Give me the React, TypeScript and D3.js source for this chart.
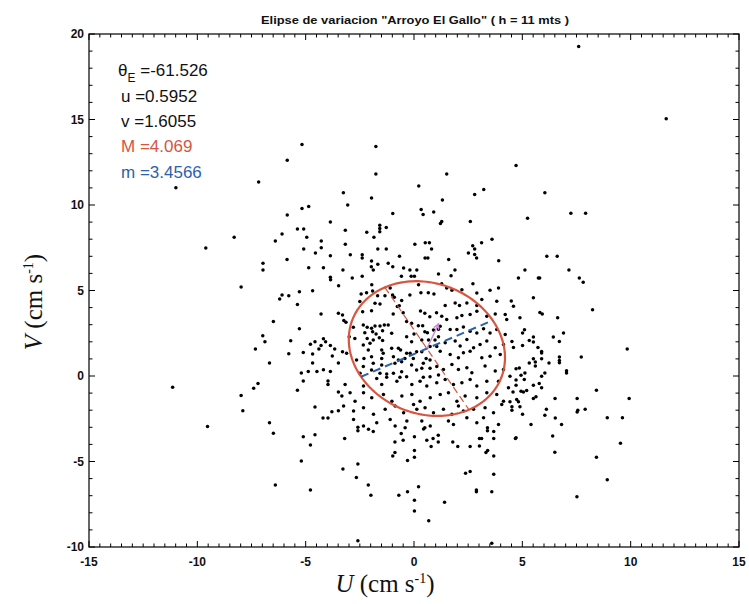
import React from "react";
import * as d3 from "d3";

const W = 749;
const H = 604;

const titleText = 'Elipse de variacion "Arroyo El Gallo" ( h = 11 mts )';
const xTickLabels = [-15, -10, -5, 0, 5, 10, 15];
const yTickLabels = [-10, -5, 0, 5, 10, 15, 20];

// ellipse statistics
const thetaE = -61.526;
const uMean = 0.5952;
const vMean = 1.6055;
const majorM = 4.069;
const minorM = 3.4566;

// scatter points [U, V] grouped by region of the plot
const ptsTop: [number, number][] = [[7.6, 19.27], [11.64, 15.04]];

const ptsUpperLeft: [number, number][] = [
  [-5.17, 13.54], [-5.85, 12.62], [-10.99, 11.01], [-7.17, 11.34], [-5.17, 9.79], [-4.86, 9.91],
  [-5.85, 9.42], [-3.86, 9.01], [-5.38, 8.6], [-5.09, 8.6], [-6.09, 8.31], [-4.95, 8.12], [-8.3, 8.12],
  [-6.4, 7.9], [-4.28, 7.89], [-9.61, 7.48], [-5.09, 7.42], [-4.28, 7.5], [-4.55, 7.2], [-3.86, 7.03],
  [-5.86, 6.82], [-6.97, 6.6], [-6.97, 6.2], [-4.86, 6.33], [-4.18, 6.33], [-3.86, 5.77],
];

const ptsUpperMid: [number, number][] = [
  [-1.76, 13.42], [-1.76, 11.81], [1.51, 11.81], [4.71, 12.31], [0.22, 11.11], [6.04, 10.72], [-3.26, 10.72],
  [2.8, 10.62], [3.22, 10.91], [-1.96, 10.41], [1.31, 10.29], [-3.06, 10.0], [0.33, 9.73], [0.42, 9.44],
  [0.91, 9.59], [-0.98, 9.5], [7.24, 9.52], [7.92, 9.52], [5.24, 9.23], [1.22, 8.92], [1.28, 9.03],
  [2.6, 9.03], [-3.17, 8.53], [-1.58, 8.82], [-1.58, 8.63], [-1.58, 8.43], [-1.28, 8.68], [-2.18, 8.41],
  [-1.85, 8.12], [-3.17, 7.71], [0.04, 7.71], [0.52, 7.79], [0.71, 7.79], [0.81, 7.42], [3.6, 8.0],
  [3.12, 7.79], [2.71, 7.61], [2.8, 7.42], [2.51, 7.2], [2.8, 7.11], [2.89, 6.9], [-1.67, 7.42],
  [-1.28, 7.42], [-2.94, 7.09], [-2.39, 7.09], [-2.39, 6.9], [-0.67, 7.01], [0.51, 6.9], [0.64, 6.9],
  [1.6, 6.82], [3.91, 6.74], [6.13, 7.01], [6.61, 7.01], [-1.96, 6.72], [-1.67, 6.53], [-1.19, 6.6],
  [-1.97, 6.39], [-1.88, 6.2], [-0.98, 6.39], [-0.48, 6.31], [-0.19, 6.2], [0.13, 6.2], [-3.28, 6.2],
  [1.89, 6.2], [5.12, 6.2], [7.15, 6.2], [1.13, 5.96], [1.71, 5.86], [-2.39, 5.83], [-0.58, 5.83],
  [-0.13, 5.83], [0.02, 5.83], [-2.85, 5.73], [4.82, 5.73], [5.74, 5.73], [5.8, 5.73], [7.63, 5.73],
];

const ptsRightMid: [number, number][] = [
  [7.81, 5.48], [5.51, 4.58], [4.49, 4.39], [4.59, 4.08], [5.81, 3.71], [5.92, 3.62], [4.89, 3.4],
  [6.63, 3.4], [5.1, 2.7], [5.01, 2.51], [6.9, 2.51], [4.52, 2.02], [5.51, 2.28], [5.32, 2.08],
  [5.51, 1.99], [6.43, 2.28], [6.71, 2.02], [5.01, 1.79], [4.59, 1.67], [5.72, 1.67], [5.89, 1.44],
  [5.89, 1.35], [7.72, 1.11], [5.51, 1.01], [5.6, 0.82], [6.71, 1.11], [6.71, 0.91], [6.71, 0.78],
  [5.32, 0.76], [5.6, 0.59], [5.89, 1.01], [6.23, 0.76], [4.71, 0.43], [4.86, 0.47], [5.12, 0.18],
  [4.94, 0.04], [6.04, 0.18], [7.04, 0.3], [7.04, 0.18], [4.43, -0.02], [4.71, -0.23], [5.09, -0.21],
  [5.89, -0.02], [4.71, -0.54], [5.51, -0.54], [5.78, -0.44], [5.89, -0.68], [4.57, -0.93], [4.94, -0.89],
  [5.05, -0.93], [5.2, -0.85], [5.63, -1.22], [5.51, -1.32], [6.51, -1.32], [4.43, -1.51], [4.74, -1.38],
  [4.82, -1.51], [7.53, -1.32], [4.52, -1.8], [4.52, -2.0], [4.89, -1.8], [6.11, -1.94], [7.56, -2.0],
  [7.53, -2.11], [7.9, -1.94], [5.01, -2.23], [6.04, -2.29], [6.52, -2.46], [5.4, -2.83], [6.81, -2.83],
  [4.71, -3.61], [6.4, -3.51],
];

const ptsFarRight: [number, number][] = [
  [8.24, 3.87], [9.84, 1.58], [8.42, -0.83], [9.93, -1.32], [8.92, -2.44], [9.62, -2.44], [9.53, -3.94],
  [8.42, -4.75], [8.92, -6.07],
];

const ptsLeftMid: [number, number][] = [
  [-7.98, 5.21], [-6.09, 4.74], [-6.2, 4.51], [-5.78, 4.7], [-5.29, 4.92], [-4.68, 4.99], [-3.85, 5.63],
  [-3.48, 5.28], [-5.38, 4.18], [-4.29, 3.62], [-3.49, 3.67], [-6.49, 3.19], [-5.29, 2.76], [-6.98, 2.35],
  [-6.88, 2.0], [-5.69, 2.06], [-7.32, 1.58], [-4.78, 1.85], [-4.57, 2.0], [-4.29, 1.79], [-4.18, 2.18],
  [-4.08, 2.0], [-4.39, 1.58], [-3.86, 1.79], [-3.66, 1.58], [-5.78, 1.3], [-5.11, 1.38], [-4.68, 1.29],
  [-3.77, 1.17], [-6.67, 0.76], [-4.68, 0.76], [-3.49, 0.76], [-5.2, 0.18], [-4.88, 0.27], [-4.48, 0.27],
  [-4.18, 0.37], [-3.86, 0.27], [-5.11, -0.29], [-3.97, -0.29], [-3.97, -0.5], [-3.49, -0.93],
  [-11.14, -0.66], [-7.2, -0.44], [-7.4, -0.72], [-5.38, -0.83], [-7.98, -1.14], [-7.9, -2.03],
  [-4.57, -1.82], [-3.79, -2.09], [-3.49, -2.03], [-4.2, -2.46], [-3.97, -2.46], [-9.53, -2.95],
  [-6.67, -2.73], [-6.49, -3.35], [-5.11, -3.55], [-4.57, -3.43], [-4.78, -4.04],
  [-5.2, -4.97], [-6.4, -6.37], [-4.78, -6.66],
];

const ptsLower: [number, number][] = [
  [-3.2, -3.65], [-2.59, -3.0], [-2.59, -3.2], [-2.1, -3.12], [-1.88, -3.24], [-0.59, -3.36], [-0.41, -3.02],
  [-0.88, -3.86], [-0.5, -3.75], [0.02, -3.55], [0.44, -3.1], [0.5, -3.02], [0.59, -3.75], [0.88, -3.65],
  [1.12, -3.46], [1.12, -3.86], [0.79, -4.13], [0.02, -4.36], [0.02, -4.75], [-0.88, -4.48], [-0.98, -4.68],
  [-0.3, -4.94], [1.79, -3.86], [2.02, -4.13], [2.59, -4.13], [3.02, -3.65], [3.12, -3.65], [3.02, -4.1],
  [3.32, -4.48], [3.4, -4.36], [3.39, -3.02], [3.39, -3.2], [3.68, -3.24], [3.68, -3.65], [3.68, -4.68],
  [4.68, -3.65], [6.5, -4.46], [-3.28, -5.44], [-2.59, -5.15], [-2.66, -5.93], [-2.11, -6.37], [-1.99, -6.97],
  [-0.7, -6.97], [-0.3, -6.77], [0.21, -6.48], [0.02, -7.27], [0.02, -7.9], [0.68, -8.46], [1.41, -7.39],
  [2.38, -5.69], [2.59, -5.59], [2.88, -6.66], [2.88, -6.77], [3.68, -5.74], [3.59, -6.77], [7.52, -7.06],
  [-2.59, -9.64], [3.59, -9.78],
];

// left half of the ellipse (dense core)
const ptsCoreLeft: [number, number][] = [
  [-2.44, 4.8], [-2.19, 4.87], [-1.91, 4.97], [-1.68, 4.7], [-1.34, 4.7], [-0.99, 4.74], [-0.91, 4.6],
  [-0.57, 4.41], [-0.68, 4.11], [-0.77, 4.06], [-0.19, 4.74], [0.32, 4.87], [0.66, 4.87], [0.92, 4.8],
  [-2.5, 4.35], [-1.8, 4.25], [-1.57, 4.21], [-2.37, 3.76], [-1.96, 3.82], [-0.96, 3.63], [-0.5, 3.7],
  [0.3, 3.8], [0.5, 3.67], [0.73, 3.47], [1.04, 3.7], [-3.3, 3.57], [-3.24, 3.24], [-3.14, 3.14],
  [-2.8, 2.85], [-2.34, 2.98], [-2.16, 2.85], [-1.96, 2.79], [-1.8, 2.92], [-1.57, 2.92], [-1.37, 2.98],
  [-1.19, 2.98], [-0.34, 3.18], [-0.11, 3.08], [0.2, 2.94], [0.4, 2.94], [-2.27, 2.53], [-1.91, 2.59],
  [-1.75, 2.46], [-1.45, 2.65], [-1.03, 2.5], [-2.73, 2.2], [-2.99, 2.3], [-2.16, 2.2], [-2.03, 1.91],
  [-1.88, 2.11], [-1.6, 2.24], [-1.45, 2.07], [-0.34, 2.3], [0.0, 2.46], [0.5, 2.59], [0.62, 2.53],
  [0.9, 2.69], [1.13, 2.73], [-0.11, 2.01], [0.36, 2.11], [0.67, 2.11], [0.97, 2.11], [1.13, 2.3],
  [-3.3, 1.42], [-3.11, 1.33], [-2.34, 1.81], [-2.11, 1.52], [-1.49, 1.52], [-1.42, 1.33], [-1.03, 1.62],
  [-0.72, 1.62], [-0.62, 1.52], [-0.34, 1.33], [-0.18, 1.33], [0.12, 1.42], [0.36, 1.42], [0.74, 1.72],
  [1.05, 1.72], [-2.65, 0.94], [-2.31, 1.03], [-1.96, 1.13], [-1.49, 1.03], [-0.95, 1.13], [-0.72, 0.94],
  [-0.42, 1.03], [-0.03, 1.03], [0.56, 1.03], [0.74, 0.94], [-2.34, 0.55], [-1.88, 0.74], [-1.49, 0.64],
  [-0.88, 0.74], [-0.57, 0.84], [-0.11, 0.64], [0.43, 0.74], [1.05, 0.55], [-2.49, 0.16], [-1.96, 0.35],
  [-1.57, 0.16], [-1.26, 0.12], [-0.95, 0.16], [-0.57, 0.25], [0.12, 0.35], [0.36, 0.45], [0.74, 0.45],
  [1.13, 0.06], [-1.72, -0.14], [-1.26, -0.08], [-0.65, -0.08], [-0.34, -0.04], [0.43, -0.08], [0.74, -0.04],
];

// right half and lower part of the ellipse
const ptsCoreRight: [number, number][] = [
  [-1.95, 5.34], [-1.1, 5.15], [0.21, 5.34], [1.28, 5.4], [1.51, 5.15], [1.75, 5.01], [2.21, 5.05],
  [2.72, 5.4], [2.9, 4.86], [3.51, 5.01], [3.9, 5.15],
  [1.44, 4.12], [1.9, 4.27], [2.1, 4.12], [2.44, 4.27], [2.9, 4.12], [3.13, 4.47], [3.82, 4.37],
  [1.28, 3.5], [1.51, 3.3], [1.98, 3.4], [2.21, 3.54], [2.59, 3.59], [2.9, 3.79], [3.36, 3.5], [3.75, 3.63],
  [4.21, 3.59], [4.28, 3.3],
  [1.21, 2.91], [1.67, 2.72], [1.98, 2.72], [2.28, 2.87], [2.59, 2.62], [2.9, 2.52], [3.21, 2.76],
  [3.51, 2.52], [3.82, 2.72], [4.21, 2.43],
  [1.44, 1.94], [1.9, 2.04], [2.13, 1.75], [2.44, 2.13], [2.75, 1.65], [3.05, 1.84], [3.36, 2.04],
  [3.75, 1.65], [4.13, 1.84],
  [1.21, 1.45], [1.67, 1.26], [2.05, 1.06], [2.28, 1.36], [2.59, 1.45], [3.13, 1.06], [3.51, 1.16], [3.98, 1.26],
  [1.36, 0.38], [1.75, 0.67], [2.05, 0.38], [2.44, 0.48], [2.67, 0.19], [3.28, 0.58], [3.75, 0.29], [4.13, 0.38],
  [-3.18, -0.49], [-2.33, -0.59], [-1.49, -0.49], [-0.79, -0.3], [-0.1, -0.49], [0.28, -0.3], [0.59, -0.59],
  [1.05, -0.39], [1.44, -0.2], [1.82, -0.49], [2.21, -0.39], [2.59, -0.2], [2.9, -0.59], [3.36, -0.3],
  [3.9, -0.3], [4.36, -0.69],
  [-3.33, -1.17], [-2.95, -0.98], [-2.72, -1.47], [-2.33, -0.98], [-1.95, -1.27], [-1.41, -1.08],
  [-1.02, -1.47], [-0.56, -1.17], [-0.1, -1.08], [0.28, -1.47], [0.75, -1.27], [1.21, -1.08], [1.59, -0.98],
  [1.98, -1.47], [2.36, -1.17], [2.9, -1.27], [3.36, -0.98], [3.82, -1.08], [4.13, -1.47],
  [-3.25, -1.76], [-2.79, -2.05], [-2.33, -1.85], [-1.87, -2.24], [-1.33, -1.95], [-0.87, -1.76],
  [-0.48, -2.15], [-0.02, -1.66], [0.13, -1.95], [0.51, -1.85], [0.9, -2.15], [1.36, -1.95], [1.75, -2.24],
  [2.05, -1.76], [2.28, -2.05], [2.75, -1.95], [3.28, -1.85], [3.67, -2.15], [4.05, -1.66],
  [-2.79, -2.54], [-2.33, -2.92], [-1.72, -2.73], [-1.1, -2.54], [-0.87, -2.92], [-0.33, -2.63],
  [0.36, -2.63], [0.75, -2.92], [1.59, -2.63], [1.82, -2.83], [2.44, -2.44], [2.9, -2.73], [3.21, -2.44],
  [3.9, -2.83],
];

const allPoints = [
  ...ptsTop, ...ptsUpperLeft, ...ptsUpperMid, ...ptsRightMid, ...ptsFarRight,
  ...ptsLeftMid, ...ptsLower, ...ptsCoreLeft, ...ptsCoreRight,
];

const RED = "#d8553f";
const BLUE = "#2c62ad";

export default function App() {
  const x = d3.scaleLinear().domain([-15, 15]).range([89, 739]);
  const y = d3.scaleLinear().domain([-10, 20]).range([547, 34]);
  const [x0, x1] = x.range();
  const [y0, y1] = [y(-10), y(20)];

  const th = (thetaE * Math.PI) / 180;
  const c = Math.cos(th), s = Math.sin(th);
  const ellPts: [number, number][] = d3.range(0, 361, 2).map((deg) => {
    const t = (deg * Math.PI) / 180;
    const a = majorM * Math.cos(t), b = minorM * Math.sin(t);
    return [uMean + a * c - b * s, vMean + a * s + b * c];
  });
  const line = d3.line<[number, number]>().x((d) => x(d[0])).y((d) => y(d[1]));

  const majA: [number, number] = [uMean - majorM * c, vMean - majorM * s];
  const majB: [number, number] = [uMean + majorM * c, vMean + majorM * s];
  const minA: [number, number] = [uMean + minorM * s, vMean - minorM * c];
  const minB: [number, number] = [uMean - minorM * s, vMean + minorM * c];

  // quiver-style mean arrow (scaled 0.9)
  const tip: [number, number] = [uMean + 0.9 * uMean, vMean + 0.9 * vMean];
  const px0 = x(uMean), py0 = y(vMean), px1 = x(tip[0]), py1 = y(tip[1]);
  const ang = Math.atan2(py1 - py0, px1 - px0);
  const hl = 6;
  const h1 = [px1 - hl * Math.cos(ang - 0.45), py1 - hl * Math.sin(ang - 0.45)];
  const h2 = [px1 - hl * Math.cos(ang + 0.45), py1 - hl * Math.sin(ang + 0.45)];

  const xMinor = d3.range(-15, 15.001, 0.5);
  const yMinor = d3.range(-10, 20.001, 1);
  const isMajor = (v: number) => Math.abs(v / 5 - Math.round(v / 5)) < 1e-6;

  const tickFont = { fontFamily: "Liberation Sans, Arial, sans-serif", fontWeight: 700, fontSize: 12 };
  const annFont = { fontFamily: "Liberation Sans, Arial, sans-serif", fontSize: 17 };

  return (
    <svg width={W} height={H} style={{ position: "absolute", left: 0, top: 0, background: "#fff" }}>
      <rect x={0} y={0} width={W} height={H} fill="#fff" />
      {/* title */}
      <text x={415} y={24} textAnchor="middle" textLength={308} lengthAdjust="spacingAndGlyphs"
        style={{ ...tickFont, fontSize: 11 }} fill="#111">{titleText}</text>

      {/* points */}
      <g fill="#000">
        {allPoints.map((p, i) => (
          <circle key={i} cx={x(p[0])} cy={y(p[1])} r={1.75} />
        ))}
      </g>

      {/* ellipse and axes */}
      <path d={line(ellPts) || ""} fill="none" stroke={RED} strokeWidth={2.2} />
      <line x1={x(majA[0])} y1={y(majA[1])} x2={x(majB[0])} y2={y(majB[1])} stroke={RED}
        strokeWidth={1.2} strokeDasharray="7,4" />
      <line x1={x(minA[0])} y1={y(minA[1])} x2={x(minB[0])} y2={y(minB[1])} stroke={BLUE}
        strokeWidth={2} strokeDasharray="8,5" />
      <g stroke="#c98ad0" strokeWidth={1.4} fill="none">
        <line x1={px0} y1={py0} x2={px1} y2={py1} />
        <polyline points={`${h1[0]},${h1[1]} ${px1},${py1} ${h2[0]},${h2[1]}`} />
      </g>

      {/* frame */}
      <rect x={x0} y={y1} width={x1 - x0} height={y0 - y1} fill="none" stroke="#000" strokeWidth={1.2} />
      <g stroke="#000" strokeWidth={1}>
        {xMinor.map((v) => {
          const L = isMajor(v) ? 6 : 3.5;
          return (
            <g key={"xt" + v}>
              <line x1={x(v)} x2={x(v)} y1={y0} y2={y0 - L} />
              <line x1={x(v)} x2={x(v)} y1={y1} y2={y1 + L} />
            </g>
          );
        })}
        {yMinor.map((v) => {
          const L = isMajor(v) ? 6 : 3.5;
          return (
            <g key={"yt" + v}>
              <line x1={x0} x2={x0 + L} y1={y(v)} y2={y(v)} />
              <line x1={x1} x2={x1 - L} y1={y(v)} y2={y(v)} />
            </g>
          );
        })}
      </g>
      {xTickLabels.map((v) => (
        <text key={"xl" + v} x={x(v)} y={566} textAnchor="middle" style={tickFont} fill="#111">{v}</text>
      ))}
      {yTickLabels.map((v) => (
        <text key={"yl" + v} x={84} y={y(v) + 4} textAnchor="end" style={tickFont} fill="#111">{v}</text>
      ))}

      {/* annotations */}
      <text x={118} y={76} style={annFont} fill="#111">
        θ<tspan dy={6} fontSize={12}>E</tspan><tspan dy={-6}> =-61.526</tspan>
      </text>
      <text x={121} y={102} style={annFont} fill="#111">u =0.5952</text>
      <text x={121} y={127} style={annFont} fill="#111">v =1.6055</text>
      <text x={121} y={152} style={annFont} fill={RED}>M =4.069</text>
      <text x={121} y={178} style={annFont} fill={BLUE}>m =3.4566</text>

      {/* axis labels */}
      <text x={385} y={592} textAnchor="middle" fontFamily="Liberation Serif, Times New Roman, serif" fontSize={25} fill="#111">
        <tspan fontStyle="italic">U</tspan> (cm s<tspan dy={-9} fontSize={14}>-1</tspan><tspan dy={9}>)</tspan>
      </text>
      <text transform="translate(42,302) rotate(-90)" textAnchor="middle" fontFamily="Liberation Serif, Times New Roman, serif" fontSize={25} fill="#111">
        <tspan fontStyle="italic">V</tspan> (cm s<tspan dy={-9} fontSize={14}>-1</tspan><tspan dy={9}>)</tspan>
      </text>
    </svg>
  );
}
